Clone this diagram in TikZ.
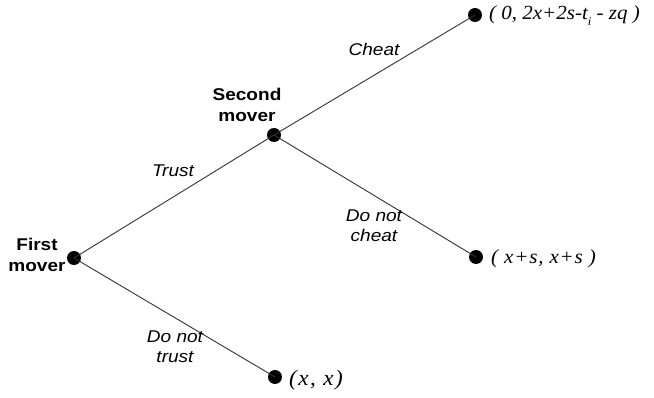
\documentclass[tikz,border=0pt]{standalone}
\usepackage{fontspec}
\setsansfont{Liberation Sans}[FakeStretch=1.12]
\setmainfont{Liberation Serif}[FakeStretch=1.05]
\usetikzlibrary{positioning}
\definecolor{edgegray}{RGB}{50,50,50}
\tikzset{
  dot/.style={circle, fill=black, inner sep=0pt, minimum size=14pt},
  player/.style={font=\sffamily\bfseries\fontsize{17}{21}\selectfont, align=center, inner sep=0pt},
  choice/.style={font=\sffamily\itshape\fontsize{17}{20}\selectfont, align=center, inner sep=0pt},
  payoff/.style={font=\rmfamily\itshape\fontsize{20}{22}\selectfont, anchor=west, inner sep=0pt},
  branch/.style={draw=edgegray, line width=0.9pt}
}
\begin{document}
\begin{tikzpicture}[x=1pt,y=-1pt]
\useasboundingbox (0,0) rectangle (654,398);
% decision nodes
\node[dot] (first) at (74,258) {};
\node[dot] (second) at (274,135) {};
% end nodes
\node[dot] (cheat) at (475,15) {};
\node[dot] (honest) at (476,257) {};
\node[dot] (keep) at (275,377) {};
% branches
\draw[branch] (first.center)--(second.center);
\draw[branch] (first.center)--(keep.center);
\draw[branch] (second.center)--(cheat.center);
\draw[branch] (second.center)--(honest.center);
% players
\node[player] (firstlbl) at (37,255) {First\\mover};
\node[player] (secondlbl) at (247,105) {Second\\mover};
% moves
\node[choice] (trustlbl) at (173,171) {Trust};
\node[choice] (cheatlbl) at (374,49) {Cheat};
\node[choice] (notcheatlbl) at (374,226) {Do not\\cheat};
\node[choice] (nottrustlbl) at (175,347) {Do not\\trust};
% payoffs
\node[payoff] (cheatpay) at (489,16) {( 0, 2x+2s-t\raisebox{-6pt}{\fontsize{12}{12}\selectfont i} - zq )};
\node[payoff] (honestpay) at (491,259) {\addfontfeature{LetterSpace=4}( x+s, x+s )};
\node[payoff, font=\rmfamily\itshape\fontsize{22}{24}\selectfont] (keeppay) at (289,380) {\addfontfeature{LetterSpace=7}(x, x)};
\end{tikzpicture}
\end{document}
